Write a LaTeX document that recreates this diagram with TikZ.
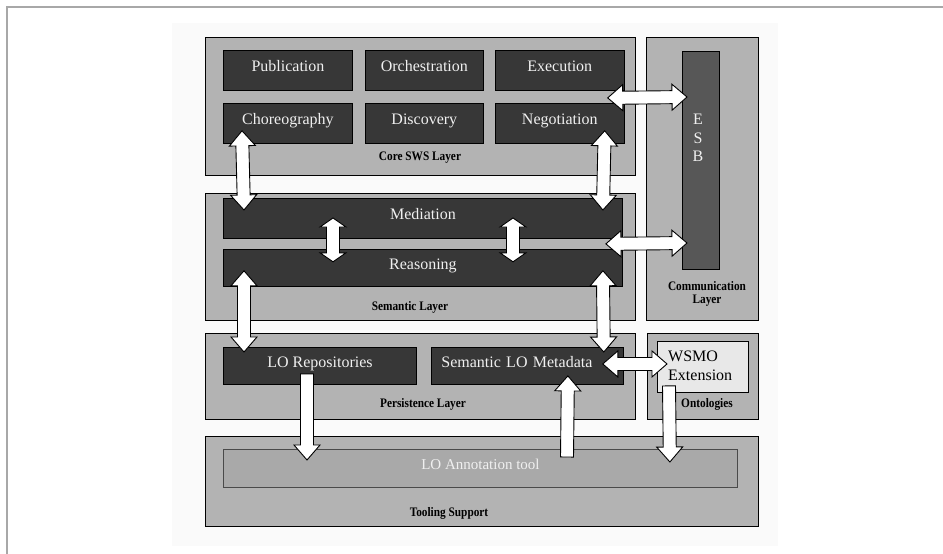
\documentclass[tikz,border=0pt]{standalone}
\usepackage{fontspec}
\setmainfont{Liberation Serif}
\usepackage{graphicx}
\usetikzlibrary{positioning, calc}
\definecolor{layerGray}{HTML}{B3B3B3}
\definecolor{boxDark}{HTML}{373737}
\definecolor{esbGray}{HTML}{575757}
\definecolor{toolGray}{HTML}{A9A9A9}
\definecolor{toolEdge}{HTML}{4A4A4A}
\definecolor{ontoLight}{HTML}{E8E8E8}
\definecolor{frameGray}{HTML}{A8A8A8}
\definecolor{paperWhite}{HTML}{FAFAFA}
\definecolor{textLight}{HTML}{F0F0F0}
\newcommand{\boxfont}{\fontsize{16}{18}\selectfont}
\newcommand{\layerlbl}[1]{\scalebox{0.87}[1]{#1}}
\newcommand{\headhalf}{13pt}
\newcommand{\shafthalf}{6.5pt}
\tikzset{
  layer/.style={draw=black, line width=0.9pt, fill=layerGray, anchor=north west, inner sep=0pt},
  swsbox/.style={draw=black, line width=0.9pt, fill=boxDark, text=textLight, anchor=north west,
                 inner sep=0pt, minimum height=40pt, text height=11pt, text depth=8pt},
  lbl/.style={inner sep=0pt, align=center, font=\fontsize{13}{12.5}\selectfont\bfseries},
  blkarrow/.style={draw=black, fill=white, line width=0.9pt, line join=miter},
  % two-headed block arrow, tip to tip
  dblarrow/.style={blkarrow, to path={let \p1=(\tikztostart), \p2=(\tikztotarget),
      \n1={atan2(\y2-\y1,\x2-\x1)}, \n2={veclen(\x2-\x1,\y2-\y1)} in
      -- ($(\p1)+(\n1:#1)+(\n1+90:\headhalf)$)
      -- ($(\p1)+(\n1:#1)+(\n1+90:\shafthalf)$)
      -- ($(\p1)+(\n1:\n2-#1)+(\n1+90:\shafthalf)$)
      -- ($(\p1)+(\n1:\n2-#1)+(\n1+90:\headhalf)$)
      -- (\p2)
      -- ($(\p1)+(\n1:\n2-#1)+(\n1-90:\headhalf)$)
      -- ($(\p1)+(\n1:\n2-#1)+(\n1-90:\shafthalf)$)
      -- ($(\p1)+(\n1:#1)+(\n1-90:\shafthalf)$)
      -- ($(\p1)+(\n1:#1)+(\n1-90:\headhalf)$)
      -- cycle}},
  dblarrow/.default=15pt,
  % one-headed block arrow, tail to tip
  sglarrow/.style={blkarrow, to path={let \p1=(\tikztostart), \p2=(\tikztotarget),
      \n1={atan2(\y2-\y1,\x2-\x1)}, \n2={veclen(\x2-\x1,\y2-\y1)} in
      ($(\p1)+(\n1+90:\shafthalf)$)
      -- ($(\p1)+(\n1:\n2-#1)+(\n1+90:\shafthalf)$)
      -- ($(\p1)+(\n1:\n2-#1)+(\n1+90:\headhalf)$)
      -- (\p2)
      -- ($(\p1)+(\n1:\n2-#1)+(\n1-90:\headhalf)$)
      -- ($(\p1)+(\n1:\n2-#1)+(\n1-90:\shafthalf)$)
      -- ($(\p1)+(\n1-90:\shafthalf)$)
      -- cycle}},
  sglarrow/.default=15pt,
}

\begin{document}
\begin{tikzpicture}[x=1pt, y=-1pt, font=\boxfont]
  \useasboundingbox (0,0) rectangle (943,554);
  \fill[paperWhite] (172,23) rectangle (778,546);
  \draw[frameGray, line width=1.5pt] (7,554) -- (7,7) -- (943,7);

  % layers
  \node[layer, minimum width=430pt, minimum height=138pt] (core) at (205,37) {};
  \node[layer, minimum width=112pt, minimum height=283pt] (comm) at (646,37) {};
  \node[layer, minimum width=430pt, minimum height=127pt] (sem) at (205,193) {};
  \node[layer, minimum width=430pt, minimum height=86pt] (pers) at (205,333) {};
  \node[layer, minimum width=111pt, minimum height=86pt] (onto) at (647,333) {};
  \node[layer, minimum width=553pt, minimum height=90pt] (tool) at (205,436) {};

  % core SWS services
  \node[swsbox, minimum width=129pt] (pub) at (223,50) {Publication};
  \node[swsbox, minimum width=118pt, right=12pt of pub] (orch) {Orchestration};
  \node[swsbox, minimum width=129pt, right=11pt of orch] (exec) {Execution};
  \node[swsbox, minimum width=129pt, below=12pt of pub] (chor) {Choreography};
  \node[swsbox, minimum width=118pt, below=12pt of orch] (disc) {Discovery};
  \node[swsbox, minimum width=129pt, below=12pt of exec] (nego) {Negotiation};

  % semantic layer
  \node[swsbox, minimum width=399pt] (med) at (223,198) {Mediation};
  \node[swsbox, minimum width=399pt, minimum height=37pt, below=10pt of med] (reas) {Reasoning};

  % persistence layer
  \node[swsbox, minimum width=193pt, minimum height=37pt] (lorep) at (223,347) {LO Repositories};
  \node[swsbox, minimum height=37pt, text width=172pt, inner xsep=10pt, align=left,
        right=14pt of lorep] (lomd) {Semantic LO Metadata};

  % communication, ontologies, tooling
  \node[draw=black, line width=0.9pt, fill=esbGray, anchor=north west, inner sep=0pt,
        minimum width=37pt, minimum height=218pt] (esb) at (682,51) {};
  \node[text=textLight, align=center, inner sep=0pt, font=\fontsize{16}{18.5}\selectfont]
        (esbTxt) at (698,138) {E\\S\\B};
  \node[draw=black, line width=0.9pt, fill=ontoLight, anchor=north west, inner sep=0pt,
        minimum width=91pt, minimum height=51pt] (wsmo) at (657,341) {};
  \node[anchor=west, align=left, inner sep=0pt, font=\fontsize{16}{19}\selectfont]
        (wsmoTxt) at (668,366) {WSMO\\Extension};
  \node[draw=toolEdge, line width=0.9pt, fill=toolGray, text=textLight, anchor=north west,
        inner sep=0pt, minimum width=514pt, minimum height=38pt, text height=11pt,
        text depth=8pt, font=\fontsize{15}{18}\selectfont] (anno) at (223,449) {LO Annotation tool};

  % layer labels
  \node[lbl] (coreLbl) at (420,158) {\layerlbl{Core SWS Layer}};
  \node[lbl] (commLbl) at (707,294) {\layerlbl{Communication}\\\layerlbl{Layer}};
  \node[lbl] (semLbl) at (410,307) {\layerlbl{Semantic Layer}};
  \node[lbl] (persLbl) at (423,404) {\layerlbl{Persistence Layer}};
  \node[lbl] (ontoLbl) at (707,404) {\layerlbl{Ontologies}};
  \node[lbl] (toolLbl) at (449,513) {\layerlbl{Tooling Support}};

  % block arrows
  \draw[dblarrow] ($(chor.south west)+(19,-13)$) to ($(med.north west)+(21,12)$);
  \draw[dblarrow] ($(nego.south east)+(-20,-13)$) to ($(med.north east)+(-20,12)$);
  \draw[dblarrow] ($(exec.south east)+(-17,7)$) to ($(esb.north west)+(5,46)$);
  \draw[dblarrow=9pt] ($(med.north west)+(110,20)$) to ($(reas.south west)+(110,-25)$);
  \draw[dblarrow=9pt] ($(med.north west)+(290,20)$) to ($(reas.south west)+(290,-25)$);
  \draw[dblarrow] ($(med.south east)+(-17,5)$) to ($(esb.north west)+(5,192)$);
  \draw[dblarrow] ($(reas.south west)+(21,-16)$) to ($(lorep.north west)+(21,5)$);
  \draw[dblarrow] ($(reas.south east)+(-20,-16)$) to ($(lomd.north east)+(-20,5)$);
  \draw[dblarrow] ($(lomd.east)+(-21,-2)$) to ($(wsmo.west)+(10,-3)$);
  \draw[sglarrow] ($(lorep.south west)+(84,-11)$) to ($(anno.north west)+(84,11)$);
  \draw[sglarrow] ($(anno.north west)+(344,8)$) to ($(lomd.south west)+(137,-9)$);
  \draw[sglarrow] ($(wsmo.south west)+(12,-7)$) to ($(anno.north east)+(-68,13)$);
\end{tikzpicture}
\end{document}
